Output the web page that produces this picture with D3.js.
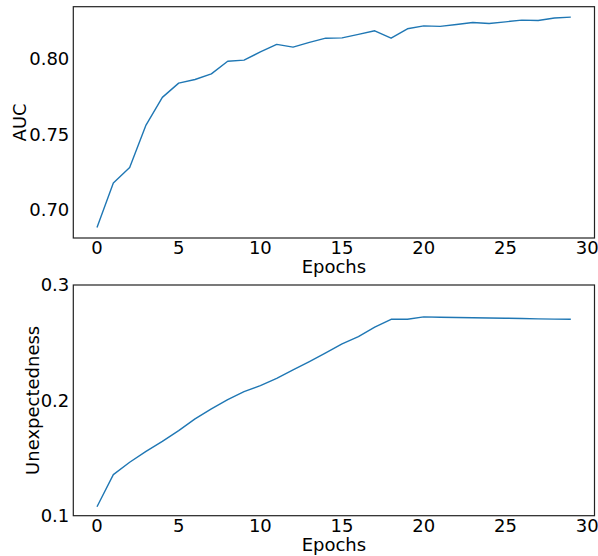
<!DOCTYPE html>
<html>
<head>
<meta charset="utf-8">
<script src="https://cdn.jsdelivr.net/npm/d3@7"></script>
<style>
  body { margin: 0; background: #fff; }
  text { font-family: "DejaVu Sans", sans-serif; fill: #000; }
</style>
</head>
<body>
<div id="chart"></div>
<script>
(function() {
  var width = 598,
      height = 556;

  // epochs 0..29
  const epochs = d3.range(0, 30);

  // AUC per epoch (top panel)
  const auc = [0.6884, 0.7178, 0.7280, 0.7560, 0.7743, 0.7837, 0.7861, 0.7898, 0.7982, 0.7989,
               0.8043, 0.8093, 0.8075, 0.8106, 0.8134, 0.8136, 0.8159, 0.8183, 0.8134, 0.8196,
               0.8215, 0.8212, 0.8224, 0.8238, 0.8231, 0.8242, 0.8253, 0.8251, 0.8267, 0.8273];

  // unexpectedness per epoch (bottom panel)
  const unexp = [0.1078, 0.1356, 0.1463, 0.1558, 0.1645, 0.1738, 0.1839, 0.1926, 0.2006, 0.2076,
                 0.2128, 0.2191, 0.2264, 0.2336, 0.2412, 0.2490, 0.2553, 0.2634, 0.2703, 0.2703,
                 0.2724, 0.2721, 0.2718, 0.2716, 0.2714, 0.2712, 0.2709, 0.2706, 0.2704, 0.2703];

  const xTicks = [0, 5, 10, 15, 20, 25, 30];
  const aucTicks = [0.70, 0.75, 0.80];
  const unexpTicks = [0.1, 0.2, 0.3];

  const svg = d3.select("#chart").append("svg")
                .attr("width", width)
                .attr("height", height);

  const left = 73.3, right = 594.5;

  // x scale shared by both panels (matplotlib style 5% margins)
  var x = d3.scaleLinear().domain([-1.45, 30.45]).range([left, right]);

  function panel(top, bottom, yDomain, values, yTicks, fmt, label, labelX) {
    var y = d3.scaleLinear().domain(yDomain).range([bottom, top]);
    const g = svg.append("g");

    var line = d3.line()
                 .x((d, i) => x(epochs[i]))
                 .y(d => y(d));

    g.append("path")
     .datum(values)
     .attr("d", line)
     .attr("fill", "none")
     .attr("stroke", "#1f77b4")
     .attr("stroke-width", 1.4)
     .attr("stroke-linejoin", "round");

    // frame
    g.append("rect")
     .attr("x", left).attr("y", top)
     .attr("width", right - left).attr("height", bottom - top)
     .attr("fill", "none")
     .attr("stroke", "#222")
     .attr("stroke-width", 1.2);

    // tick labels, no tick marks
    g.selectAll(".xt")
     .data(xTicks)
     .join("text")
     .attr("x", d => x(d))
     .attr("y", bottom + 16)
     .attr("text-anchor", "middle")
     .attr("font-size", 18)
     .text(d => d);

    g.selectAll(".yt")
     .data(yTicks)
     .join("text")
     .attr("x", left - 4)
     .attr("y", d => y(d))
     .attr("dy", "0.36em")
     .attr("text-anchor", "end")
     .attr("font-size", 18)
     .text(fmt);

    g.append("text")
     .attr("x", (left + right) / 2)
     .attr("y", bottom + 35)
     .attr("text-anchor", "middle")
     .attr("font-size", 18)
     .text("Epochs");

    g.append("text")
     .attr("transform", "translate(" + labelX + "," + ((top + bottom) / 2) + ") rotate(-90)")
     .attr("text-anchor", "middle")
     .attr("font-size", 18)
     .text(label);
  }

  panel(6.7, 238, [0.6814, 0.8342], auc, aucTicks, d3.format(".2f"), "AUC", 26);
  panel(285, 515.7, [0.1, 0.3], unexp, unexpTicks, d3.format(".1f"), "Unexpectedness", 39);
})();
</script>
</body>
</html>
